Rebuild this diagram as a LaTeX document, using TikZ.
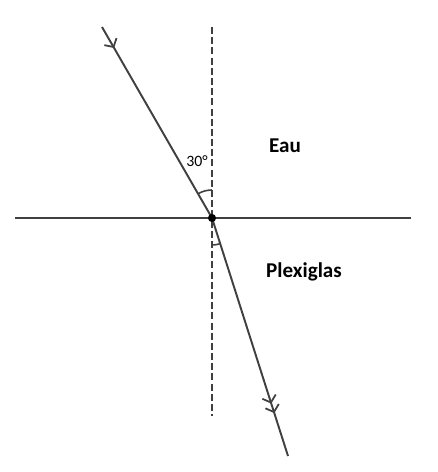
\documentclass[tikz,border=0pt]{standalone}
\usepackage{fontspec}
\setmainfont{Carlito}
\usetikzlibrary{arrows.meta,decorations.markings}

\tikzset{
  ray/.style={draw=black!75, line width=1.1pt},
  normal/.style={draw=black!75, line width=1.1pt, dash pattern=on 4pt off 1.8pt},
  anglemark/.style={draw=black!75, line width=0.9pt},
  barb/.tip={Straight Barb[length=3.5pt,width=8pt,line width=1pt]},
  label/.style={font=\bfseries\fontsize{12}{14}\selectfont, text=black}
}

\begin{document}
\begin{tikzpicture}[x=0.02cm,y=0.02cm]
  \useasboundingbox (0,0) rectangle (437,472);

  % points
  \coordinate (O) at (212,254);
  \coordinate (ntop) at (212,445);
  \coordinate (nbot) at (212,56);
  \coordinate (sleft) at (15,254);
  \coordinate (sright) at (411,254);
  \coordinate (src) at (102,445);
  \coordinate (out) at (288,16);

  % surface and normal
  \draw[ray] (sleft) -- (sright);
  \draw[normal] (ntop) -- (nbot);

  % rays
  \draw[ray, postaction={decorate, decoration={markings,
      mark=at position 0.11 with {\arrow{barb}}}}]
    (src) -- (O);
  \draw[ray, postaction={decorate, decoration={markings,
      mark=at position 0.78 with {\arrow{barb}},
      mark=at position 0.82 with {\arrow{barb}}}}]
    (O) -- (out);

  % angles
  \draw[anglemark] ([shift={(90:0.56cm)}]O) arc[start angle=90, end angle=120, radius=0.56cm];
  \draw[anglemark] ([shift={(270:0.54cm)}]O) arc[start angle=270, end angle=287.7, radius=0.54cm];
  \fill[black] (O) circle [radius=2.3pt];

  % labels
  \node[font=\fontsize{9}{10}\selectfont] (ang) at (197,311) {30°};
  \node[label] (eau) at (285,326) {Eau};
  \node[label] (plexi) at (304,200) {Plexiglas};
\end{tikzpicture}
\end{document}
